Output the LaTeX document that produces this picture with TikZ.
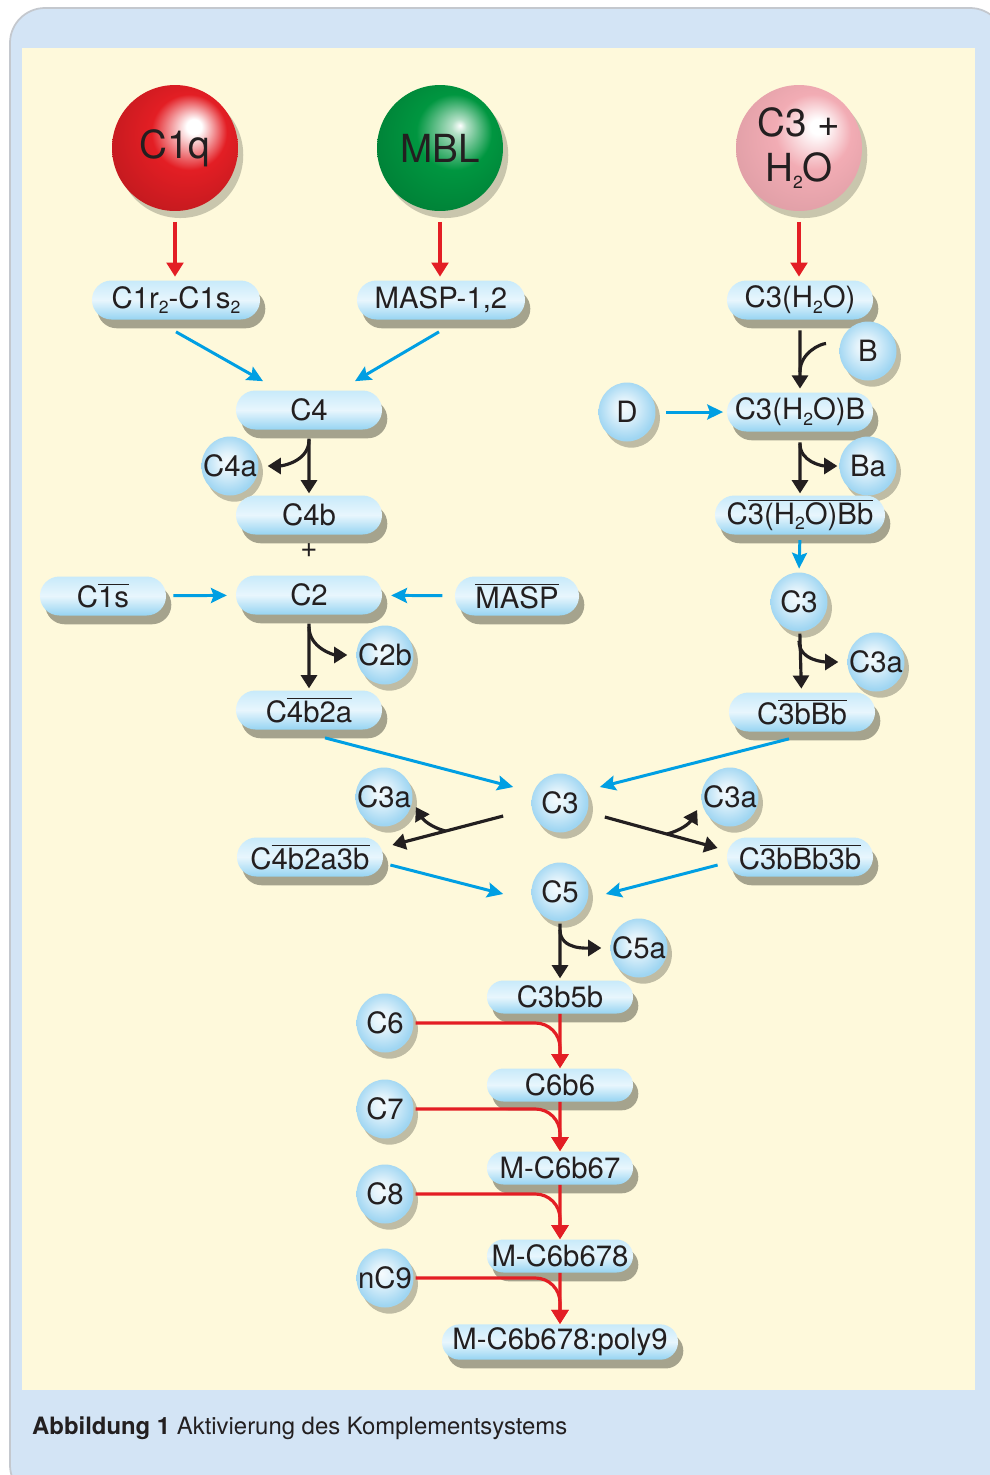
\documentclass[tikz,border=0pt]{standalone}
\usepackage{fontspec}
\setmainfont{TeX Gyre Heros}
\usepackage{tikz}
\usetikzlibrary{positioning, arrows.meta, shapes.geometric, shapes.misc, shadows, calc}

\definecolor{frameblue}{RGB}{211,228,245}
\definecolor{framegrey}{RGB}{196,200,206}
\definecolor{panel}{RGB}{254,249,219}
\definecolor{pilltop}{RGB}{200,234,250}
\definecolor{pillmid}{RGB}{232,246,253}
\definecolor{pillbot}{RGB}{150,212,242}
\definecolor{dotedge}{RGB}{160,214,242}
\definecolor{shade}{RGB}{150,148,128}
\definecolor{linered}{RGB}{227,30,36}
\definecolor{lineblue}{RGB}{0,159,227}
\definecolor{lineblack}{RGB}{35,31,32}
\definecolor{c1qred}{RGB}{227,30,36}
\definecolor{mblgreen}{RGB}{0,150,64}
\definecolor{c3pink}{RGB}{242,172,180}

% shiny balls, highlight to the upper right
\pgfdeclareradialshading{c1qball}{\pgfpoint{8bp}{9bp}}{color(0bp)=(white); color(3bp)=(white); color(15bp)=(c1qred); color(32bp)=(c1qred!85!black); color(50bp)=(c1qred!70!black)}
\pgfdeclareradialshading{mblball}{\pgfpoint{8bp}{9bp}}{color(0bp)=(white); color(3bp)=(white!70!mblgreen); color(15bp)=(mblgreen); color(32bp)=(mblgreen!85!black); color(50bp)=(mblgreen!70!black)}
\pgfdeclareradialshading{c3ball}{\pgfpoint{8bp}{9bp}}{color(0bp)=(white); color(3bp)=(white); color(15bp)=(c3pink); color(32bp)=(c3pink!92!black); color(50bp)=(c3pink!80!black)}
% small split products, light in the middle
\pgfdeclareradialshading{dotshade}{\pgfpoint{-3bp}{4bp}}{color(0bp)=(white!90!dotedge); color(8bp)=(white!70!dotedge); color(25bp)=(dotedge); color(50bp)=(dotedge!90!black)}

\newcommand{\ovl}[1]{$\overline{\mbox{#1}}$}
\newcommand{\sub}[1]{\raisebox{-.35ex}{\fontsize{10}{10}\selectfont #1}}

\tikzset{
pill/.style={rounded rectangle, minimum width=2.36cm, minimum height=0.78cm, inner xsep=-8pt, inner ysep=2pt,
  top color=pilltop, bottom color=pillbot, middle color=pillmid, text=lineblack,
  drop shadow={shadow xshift=3pt, shadow yshift=-5pt, fill=shade, opacity=.85},
  font=\fontsize{16.7}{18}\selectfont}, % the blue capsules
low/.style={pill, minimum height=0.66cm}, % flatter capsules of the terminal pathway
dot/.style={ellipse, minimum width=1.14cm, minimum height=1.18cm, inner xsep=-14pt, inner ysep=-6pt,
  shading=dotshade, text=lineblack,
  drop shadow={shadow xshift=2.5pt, shadow yshift=-3.5pt, fill=shade, opacity=.6},
  font=\fontsize{16.7}{18}\selectfont}, % small split products
sphere/.style={circle, minimum size=2.52cm, inner sep=0pt, text=lineblack,
  drop shadow={shadow xshift=3pt, shadow yshift=-4pt, fill=shade, opacity=.5},
  align=center, font=\fontsize{22}{25.5}\selectfont}, % the three starters
redarrow/.style={-{Triangle[length=8pt,width=9.5pt]}, draw=linered, line width=1.8pt},
bluearrow/.style={-{Stealth[length=9pt,width=8.5pt,inset=1.5pt]}, draw=lineblue, line width=1.7pt},
cutarrow/.style={-{Triangle[length=7.5pt,width=9pt]}, draw=lineblack, line width=1.8pt},
cutline/.style={draw=lineblack, line width=1.8pt},
}

\begin{document}
\begin{tikzpicture}[x=0.02cm, y=0.02cm]
\useasboundingbox (0,0) rectangle (990,-1475);
\clip (0,0) rectangle (990,-1475);
% frame and panel
\fill[frameblue, draw=framegrey, line width=1pt, rounded corners=0.7cm] (10,-8) rectangle (1005,-1500);
\fill[panel] (22,-48) rectangle (975,-1390);
\node[anchor=west, text=lineblack, font=\fontsize{13.6}{15}\selectfont] (caption) at (26,-1428)
  {\textbf{Abbildung 1} Aktivierung des Komplementsystems};

% starters
\node[sphere, shading=c1qball] (c1q) at (175,-148) {C1q};
\node[sphere, shading=mblball] (mbl) at (440,-148) {MBL};
\node[sphere, shading=c3ball] (c3w) at (799,-148) {C3 +\\H\sub{2}O};

% classical and lectin pathway
\node[pill, minimum width=2.8cm] (c1rs) at (176,-300) {C1r\sub{2}-C1s\sub{2}};
\node[pill, minimum width=2.8cm] (masp12) at (441,-300) {MASP-1,2};
\node[pill] (c4) at (309,-410) {C4};
\node[dot] (c4a) at (230,-466) {C4a};
\node[pill] (c4b) at (309,-515) {C4b};
\node[text=lineblack, font=\fontsize{16.7}{18}\selectfont] (plus) at (309,-551) {+};
\node[pill] (c2) at (309,-595) {C2};
\node[pill, minimum width=1.96cm] (c1s) at (103,-596) {C\ovl{1s}};
\node[pill, minimum width=1.92cm] (masp) at (517,-596) {\ovl{MASP}};
\node[dot] (c2b) at (385,-655) {C2b};
\node[pill] (c4b2a) at (309,-710) {C\ovl{4b2a}};

% alternative pathway
\node[pill] (c3h2o) at (800,-300) {C3(H\sub{2}O)};
\node[dot] (b) at (868,-351) {B};
\node[dot] (d) at (627,-412) {D};
\node[pill] (c3h2ob) at (800,-412) {C3(H\sub{2}O)B};
\node[dot] (ba) at (868,-466) {Ba};
\node[pill, minimum width=2.84cm] (c3h2obb) at (800,-515) {C\ovl{3(H\sub{2}O)Bb}};
\node[dot] (c3r) at (799,-602) {C3};
\node[dot] (c3ar) at (876,-662) {C3a};
\node[pill] (c3bbb) at (802,-712) {C\ovl{3bBb}};

% C3 and C5 convertases
\node[dot] (c3m) at (560,-803) {C3};
\node[dot] (c3al) at (384,-797) {C3a};
\node[dot] (c3am) at (730,-797) {C3a};
\node[pill] (c4b2a3b) at (310,-857) {C\ovl{4b2a3b}};
\node[pill] (c3bbb3b) at (800,-857) {C\ovl{3bBb3b}};
\node[dot] (c5) at (560,-892) {C5};
\node[dot] (c5a) at (639,-948) {C5a};

% terminal pathway
\node[low] (c3b5b) at (560,-997) {C3b5b};
\node[low] (c6b6) at (560,-1085) {C6b6};
\node[low] (mc6b67) at (560,-1168) {M-C6b67};
\node[low] (mc6b678) at (560,-1256) {M-C6b678};
\node[low, minimum width=4.16cm] (poly9) at (560,-1342) {M-C6b678:poly9};
\node[dot] (c6) at (385,-1023) {C6};
\node[dot] (c7) at (385,-1109) {C7};
\node[dot] (c8) at (385,-1194) {C8};
\node[dot] (nc9) at (385,-1278) {nC9};

% red arrows
\draw[redarrow, shorten <=6pt, shorten >=2pt] (c1q.south) -- (c1q.south |- c1rs.north);
\draw[redarrow, shorten <=6pt, shorten >=2pt] (mbl.south) -- (mbl.south |- masp12.north);
\draw[redarrow, shorten <=6pt, shorten >=2pt] (c3w.south) -- (c3w.south |- c3h2o.north);
\draw[redarrow] (c3b5b) -- (c6b6);
\draw[redarrow] (c6b6) -- (mc6b67);
\draw[redarrow] (mc6b67) -- (mc6b678);
\draw[redarrow] (mc6b678) -- (poly9);
\draw[redarrow, rounded corners=14pt, shorten <=1pt] (c6) -| (c6b6.north);
\draw[redarrow, rounded corners=14pt, shorten <=1pt] (c7) -| (mc6b67.north);
\draw[redarrow, rounded corners=14pt, shorten <=1pt] (c8) -| (mc6b678.north);
\draw[redarrow, rounded corners=14pt, shorten <=1pt] (nc9) -| (poly9.north);

% blue arrows
\draw[bluearrow] ([shift={(0,-12)}]c1rs.south) -- ([shift={(-46,9)}]c4.north);
\draw[bluearrow] ([shift={(-2,-12)}]masp12.south) -- ([shift={(46,9)}]c4.north);
\draw[bluearrow, shorten <=4pt, shorten >=5pt] (c1s) -- (c2);
\draw[bluearrow, shorten <=7pt, shorten >=5pt] (masp) -- (c2);
\draw[bluearrow, shorten <=6pt, shorten >=2pt] (d) -- (c3h2ob);
\draw[bluearrow, shorten <=3pt, shorten >=2pt] (c3h2obb.south) -- (c3r.north);
\draw[bluearrow] ([shift={(16,-8)}]c4b2a.south) -- ([shift={(-18,16)}]c3m.west);
\draw[bluearrow] ([shift={(-13,-7)}]c3bbb.south) -- ([shift={(11,16)}]c3m.east);
\draw[bluearrow] ([shift={(7,-8)}]c4b2a3b.east) -- ([shift={(-28,-2)}]c5.west);
\draw[bluearrow] ([shift={(-9,-8)}]c3bbb3b.west) -- ([shift={(17,-2)}]c5.east);

% cleavage arrows
\draw[cutarrow, shorten <=5pt, shorten >=1pt] (c4) -- (c4b);
\draw[cutarrow, shorten >=5pt] ([shift={(0,-10)}]c4.south) to[out=-90,in=0] (c4a.east);
\draw[cutarrow, shorten <=5pt, shorten >=1pt] (c2) -- (c4b2a);
\draw[cutarrow, shorten >=5pt] ([shift={(0,-12)}]c2.south) to[out=-90,in=180] (c2b.west);
\draw[cutarrow, shorten <=6pt, shorten >=2pt] (c3h2o) -- (c3h2ob);
\draw[cutline, shorten <=8pt] (b.165) to[out=180,in=90] ($(c3h2o.south)!.72!(c3h2ob.north)$);
\draw[cutarrow, shorten <=6pt, shorten >=1pt] (c3h2ob) -- (c3h2obb);
\draw[cutarrow, shorten >=1pt] ([shift={(0,-12)}]c3h2ob.south) to[out=-90,in=180] (ba.west);
\draw[cutarrow, shorten <=1pt, shorten >=2pt] (c3r) -- (c3bbb);
\draw[cutarrow, shorten >=5pt] ([shift={(0,-9)}]c3r.south) to[out=-90,in=180] (c3ar.west);
\draw[cutarrow, shorten <=1pt, shorten >=1pt] (c5) -- (c3b5b);
\draw[cutarrow, shorten >=5pt] ([shift={(0,-8)}]c5.south) to[out=-90,in=180] (c5a.west);
\coordinate (l1) at ([shift={(-28,-13)}]c3m.west);
\coordinate (l2) at ([shift={(9,12)}]c4b2a3b.east);
\draw[cutarrow] (l1) -- (l2);
\draw[cutarrow] ($(l1)!.52!(l2)$) to[out=165,in=-60] ([shift={(3,-10)}]c3al.east);
\coordinate (r1) at ([shift={(16,-14)}]c3m.east);
\coordinate (r2) at ([shift={(-9,9)}]c3bbb3b.west);
\draw[cutarrow] (r1) -- (r2);
\draw[cutarrow] ($(r1)!.55!(r2)$) to[out=15,in=-120] ([shift={(-4,-13)}]c3am.west);
\end{tikzpicture}
\end{document}
